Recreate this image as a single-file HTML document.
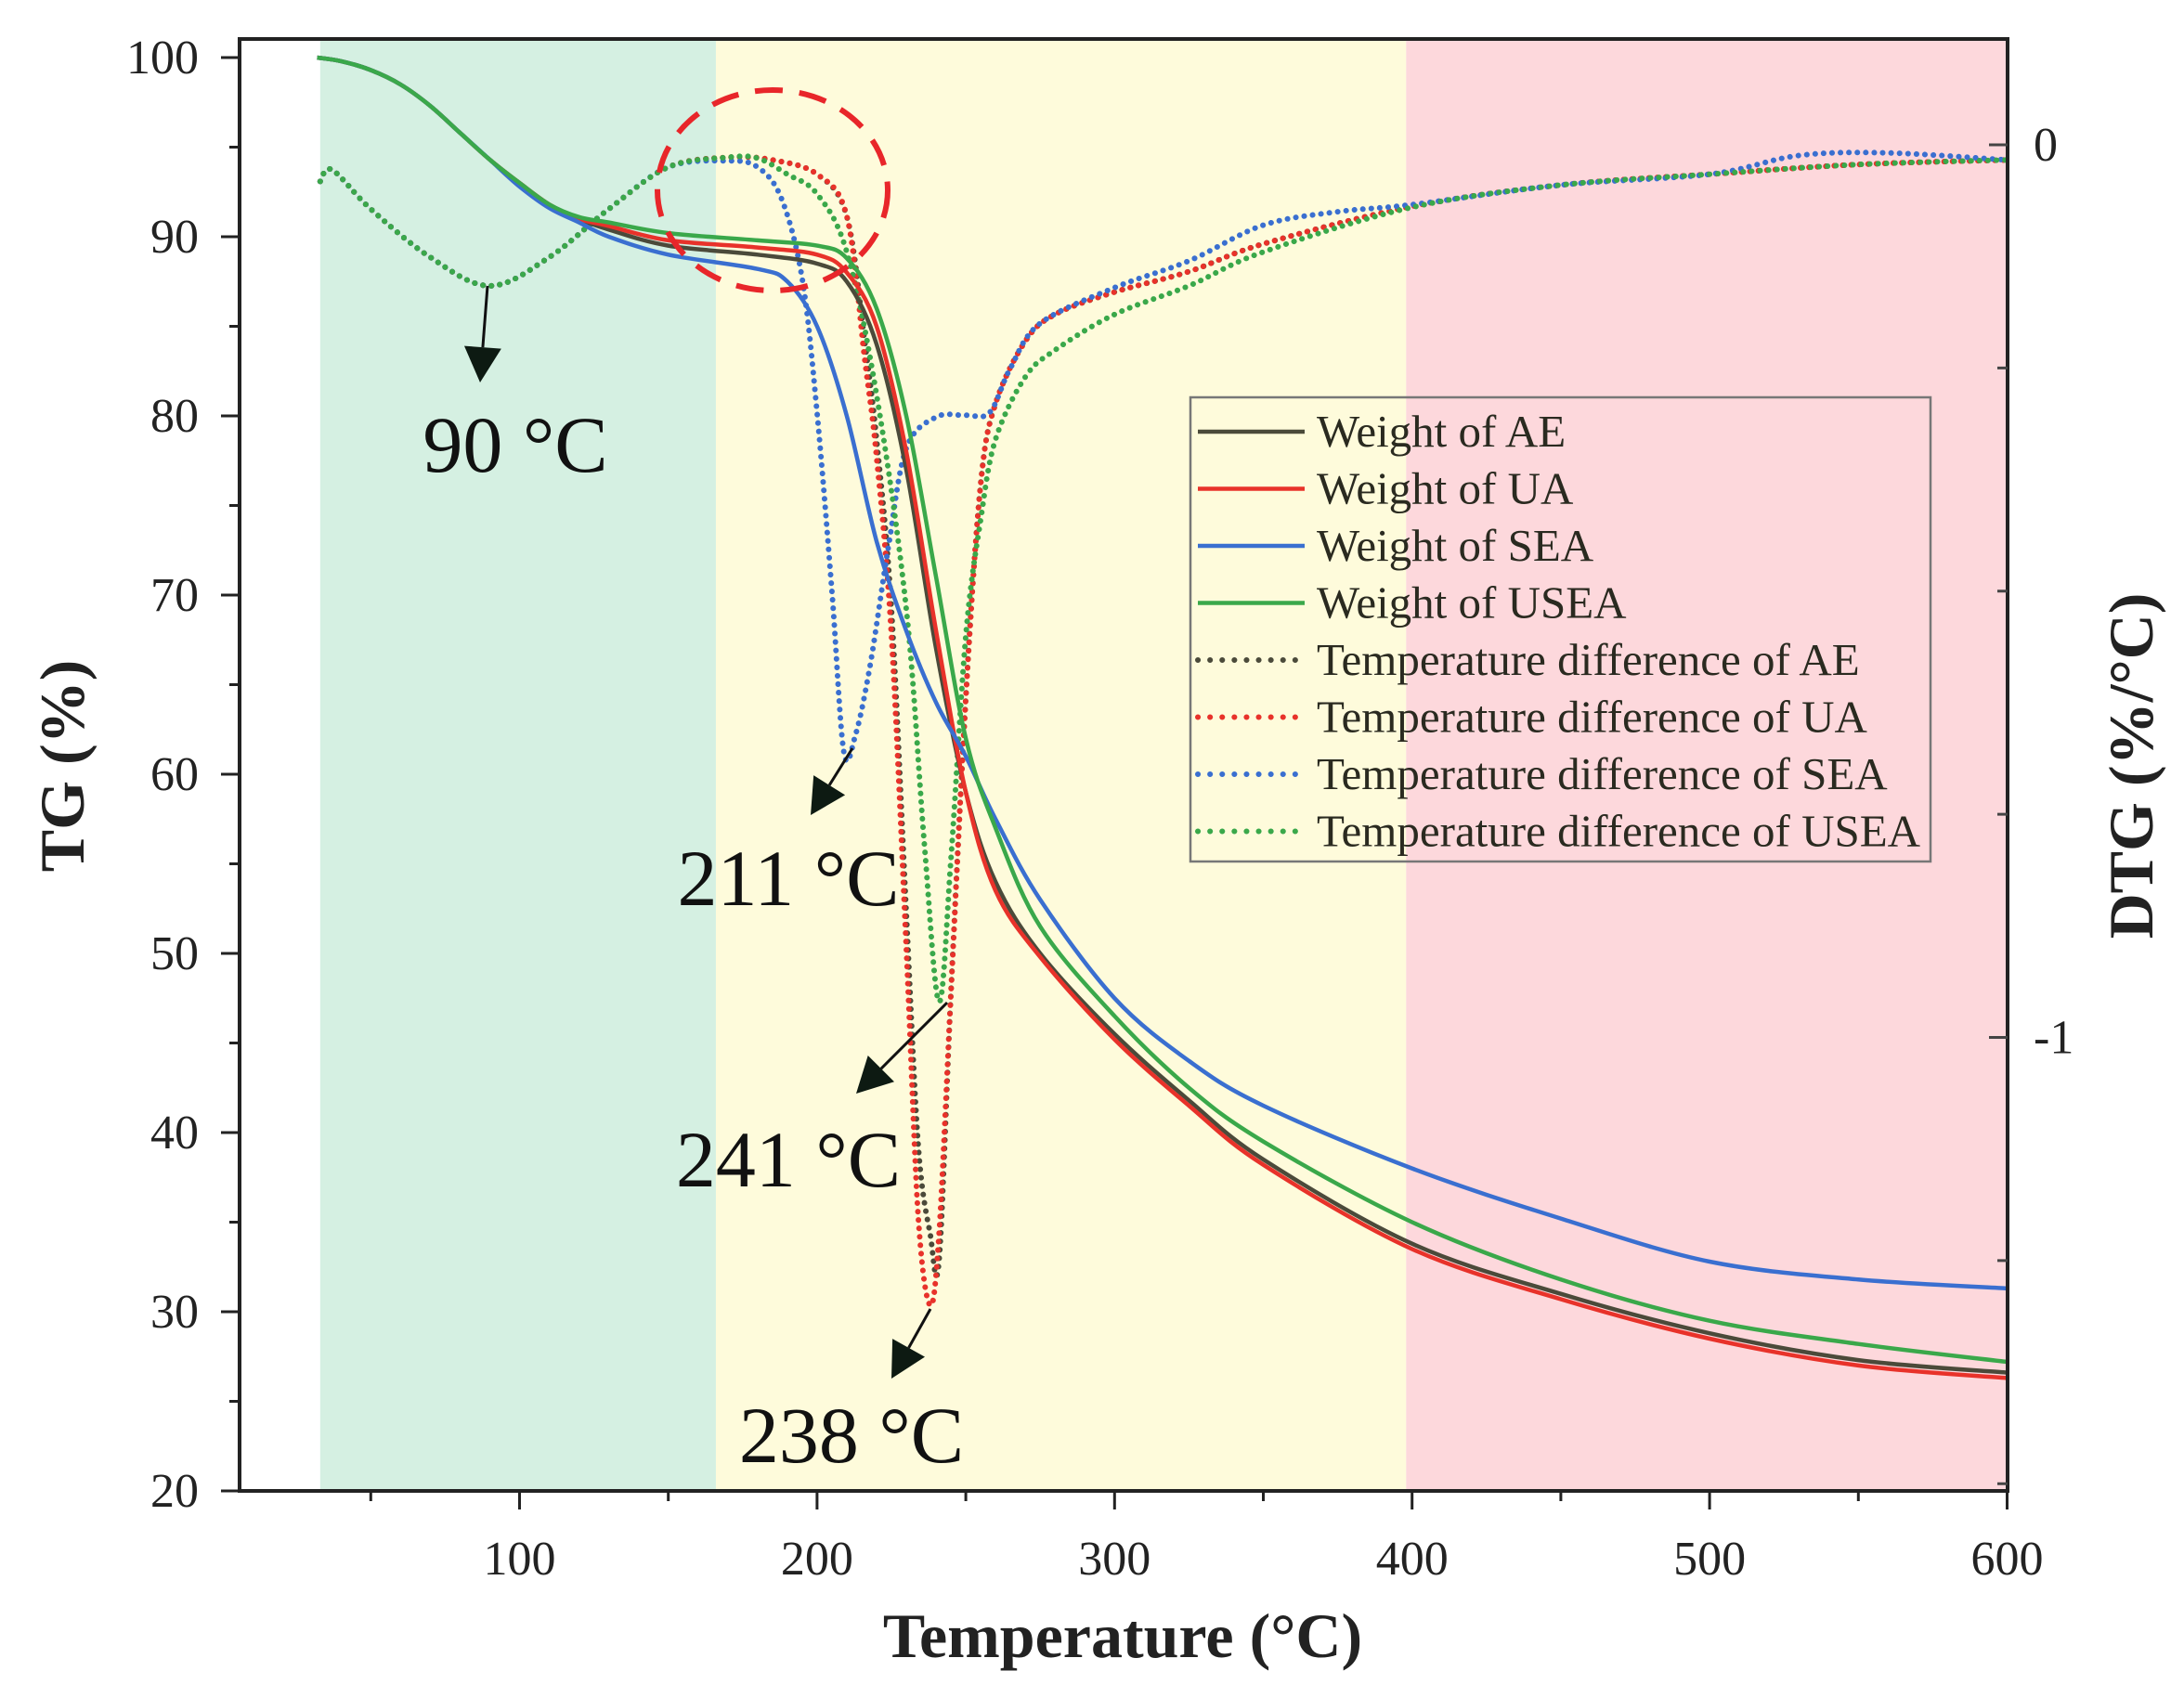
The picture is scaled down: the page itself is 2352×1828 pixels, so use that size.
<!DOCTYPE html>
<html><head><meta charset="utf-8"><style>
html,body{margin:0;padding:0;background:#fff;}
svg{display:block;font-family:"Liberation Serif",serif;}
</style></head><body>
<svg id="chart" width="2352" height="1828" viewBox="0 0 2352 1828" xmlns="http://www.w3.org/2000/svg">
<g id="bg"></g><g id="grid"></g><g id="series"></g><g id="axes"></g><g id="annot"></g><g id="legend"></g>
</svg>
<script>
// ---- data ----
const tgT = [32,40,50,60,70,80,90,100,110,120,130,150,180,200,210,220,230,240,250,260,275,300,325,350,400,450,500,550,600];
const tgAE  = [100,99.8,99.3,98.5,97.3,95.8,94.3,93,91.8,91,90.4,89.5,89,88.5,87.5,84,77,67,59,54,50,45.5,41.8,38.5,33.8,31,28.8,27.3,26.6];
const tgUA  = [100,99.8,99.3,98.5,97.3,95.8,94.3,93,91.8,91,90.6,89.8,89.4,89,88,85,78,68,59,53.5,49.8,45.2,41.5,38.2,33.5,30.7,28.5,27,26.3];
const tgSEAT = [32,40,50,60,70,80,90,100,110,120,130,150,180,190,200,210,220,230,240,250,260,275,300,325,350,400,450,500,550,600];
const tgSEA = [100,99.8,99.3,98.5,97.3,95.8,94.3,92.8,91.6,90.8,90,89,88.2,87.5,85,80,73,68,64,61,57.5,53,47.5,44,41.5,38,35.2,32.8,31.8,31.3];
const tgUSEA= [100,99.8,99.3,98.5,97.3,95.8,94.3,93,91.8,91.1,90.8,90.2,89.8,89.5,88.8,86,80,71,62,57,51.5,46.5,42.5,39.5,35,31.8,29.5,28.2,27.2];

const dT = [33,37,50,70,90,110,130,150,170,185,200,210,216,220,225,230,234,238,241,245,250,255,260,270,280,300,325,350,400,450,500,550,600];
const dAE = [-0.041,-0.028,-0.072,-0.126,-0.158,-0.126,-0.072,-0.025,-0.014,-0.017,-0.033,-0.08,-0.22,-0.33,-0.52,-0.86,-1.12,-1.22,-1.25,-0.95,-0.62,-0.38,-0.29,-0.22,-0.19,-0.165,-0.142,-0.111,-0.069,-0.045,-0.033,-0.022,-0.017];
const dUA = [-0.041,-0.028,-0.072,-0.126,-0.158,-0.126,-0.072,-0.025,-0.014,-0.017,-0.033,-0.08,-0.24,-0.35,-0.55,-0.9,-1.2,-1.3,-1.22,-0.95,-0.62,-0.38,-0.29,-0.22,-0.19,-0.165,-0.142,-0.111,-0.069,-0.045,-0.033,-0.022,-0.017];
const dSEAT = [33,37,50,70,90,110,130,150,170,180,188,195,200,205,209,213,218,224,230,240,250,258,265,275,300,325,350,375,400,450,500,530,560,600];
const dSEA = [-0.041,-0.028,-0.072,-0.126,-0.158,-0.126,-0.072,-0.025,-0.018,-0.025,-0.06,-0.15,-0.3,-0.5,-0.68,-0.66,-0.58,-0.45,-0.34,-0.305,-0.303,-0.3,-0.25,-0.2,-0.16,-0.13,-0.09,-0.075,-0.067,-0.045,-0.033,-0.012,-0.009,-0.017];
const dUSEAT = [33,37,50,70,90,110,130,150,170,180,190,200,210,220,230,236,241,245,250,255,260,270,280,300,325,350,400,450,500,550,600];
const dUSEA = [-0.041,-0.028,-0.072,-0.126,-0.158,-0.126,-0.072,-0.025,-0.014,-0.015,-0.033,-0.055,-0.12,-0.28,-0.52,-0.78,-0.96,-0.8,-0.55,-0.42,-0.33,-0.26,-0.23,-0.19,-0.158,-0.12,-0.07,-0.045,-0.033,-0.022,-0.017];

const xTicks = [100,200,300,400,500,600];
const yTicks = [20,30,40,50,60,70,80,90,100];
const y2Ticks = [0,-1];
const legendLabels = ["Weight of AE","Weight of UA","Weight of SEA","Weight of USEA","Temperature difference of AE","Temperature difference of UA","Temperature difference of SEA","Temperature difference of USEA"];

// ---- scales ----
const L=258,R=2162,T0=42,B=1606;
const x = t => 239.1 + 3.204*t;
const y = v => 62 + (100-v)*19.3;
const y2 = d => 156 - d*961.5;
const NS="http://www.w3.org/2000/svg";
function mk(tag, attrs, parent){const e=document.createElementNS(NS,tag);for(const k in attrs)e.setAttribute(k,attrs[k]);parent.appendChild(e);return e;}
function smooth(pts){let d=`M${pts[0][0].toFixed(1)},${pts[0][1].toFixed(1)}`;for(let i=0;i<pts.length-1;i++){const p0=pts[i-1]||pts[i],p1=pts[i],p2=pts[i+1],p3=pts[i+2]||p2;const c1=[p1[0]+(p2[0]-p0[0])/6,p1[1]+(p2[1]-p0[1])/6],c2=[p2[0]-(p3[0]-p1[0])/6,p2[1]-(p3[1]-p1[1])/6];d+=`C${c1[0].toFixed(1)},${c1[1].toFixed(1)} ${c2[0].toFixed(1)},${c2[1].toFixed(1)} ${p2[0].toFixed(1)},${p2[1].toFixed(1)}`;}return d;}

const bg=document.getElementById('bg');
let r;
r=mk('rect',{x:x(33),y:T0,width:x(166)-x(33),height:B-T0,fill:'#d5f0e2'},bg);


r=mk('rect',{x:x(166),y:T0,width:x(398)-x(166),height:B-T0,fill:'#fefbdb'},bg);


r=mk('rect',{x:x(398),y:T0,width:R-x(398),height:B-T0,fill:'#fdd8dc'},bg);



const colors={AE:'#4b4a3a',UA:'#e8322a',SEA:'#3a6fd0',USEA:'#3aa84a'};
const sg=document.getElementById('series');
function dotted(ts,vs,c,name){const p=mk('path',{d:smooth(ts.map((t,i)=>[x(t),y2(vs[i])])),fill:'none',stroke:c,'stroke-width':6,'stroke-dasharray':'0.1 9','stroke-linecap':'round'},sg);

}
function solid(ts,vs,c,name){const p=mk('path',{d:smooth(ts.map((t,i)=>[x(t),y(vs[i])])),fill:'none',stroke:c,'stroke-width':4.5},sg);

}
dotted(dT,dAE,colors.AE,'dtg-ae');
dotted(dT,dUA,colors.UA,'dtg-ua');
dotted(dSEAT,dSEA,colors.SEA,'dtg-sea');
dotted(dUSEAT,dUSEA,colors.USEA,'dtg-usea');
solid(tgT,tgAE,colors.AE,'tg-ae');
solid(tgT,tgUA,colors.UA,'tg-ua');
solid(tgSEAT,tgSEA,colors.SEA,'tg-sea');
solid(tgT,tgUSEA,colors.USEA,'tg-usea');

// axes
const ax=document.getElementById('axes');
mk('rect',{x:L,y:T0,width:R-L,height:B-T0,fill:'none',stroke:'#222','stroke-width':4},ax);
for(const t of xTicks){mk('line',{x1:x(t),x2:x(t),y1:B,y2:B+20,stroke:'#222','stroke-width':3},ax);
const tx=mk('text',{x:x(t),y:1696,'font-size':52,'text-anchor':'middle',fill:'#222'},ax);tx.textContent=t;

}
for(let t=50;t<600;t+=100)mk('line',{x1:x(t),x2:x(t),y1:B,y2:B+11,stroke:'#222','stroke-width':3},ax);
for(const v of yTicks){mk('line',{x1:L-20,x2:L,y1:y(v),y2:y(v),stroke:'#222','stroke-width':3},ax);
const tx=mk('text',{x:214,y:y(v)+17,'font-size':52,'text-anchor':'end',fill:'#222'},ax);tx.textContent=v;

}
for(let v=25;v<100;v+=10)mk('line',{x1:L-11,x2:L,y1:y(v),y2:y(v),stroke:'#222','stroke-width':3},ax);
for(const d of [0,-0.25,-0.5,-0.75,-1,-1.25,-1.5]){const big=Number.isInteger(d);mk('line',{x1:R-(big?20:11),x2:R,y1:y2(d),y2:y2(d),stroke:'#444','stroke-width':3},ax);}
for(const d of y2Ticks){const tx=mk('text',{x:2190,y:y2(d)+17,'font-size':52,fill:'#222'},ax);tx.textContent=d;

}
let t1=mk('text',{x:1209,y:1785,'font-size':68,'font-weight':'bold','text-anchor':'middle',fill:'#222'},ax);t1.textContent='Temperature (°C)';


t1=mk('text',{x:0,y:0,'font-size':68,'font-weight':'bold','text-anchor':'middle',fill:'#222',transform:'translate(90,825) rotate(-90)'},ax);t1.textContent='TG (%)';


t1=mk('text',{x:0,y:0,'font-size':68,'font-weight':'bold','text-anchor':'middle',fill:'#222',transform:'translate(2318,825) rotate(-90)'},ax);t1.textContent='DTG (%/°C)';



// annotations
const an=document.getElementById('annot');
const ell=mk('ellipse',{cx:832,cy:205,rx:124,ry:108,fill:'none',stroke:'#e8262a','stroke-width':6,'stroke-dasharray':'30 18'},an);


const notes=[["90 °C",555,508,525,308,517,412],["211 °C",849,975,918,806,873,878],["241 °C",849,1278,1020,1080,922,1178],["238 °C",917,1575,1002,1410,960,1485]];
for(const n of notes){
  const ang=Math.atan2(n[6]-n[4],n[5]-n[3]);const hx=n[5],hy=n[6];const bx=hx-38*Math.cos(ang),by=hy-38*Math.sin(ang);
  mk('line',{x1:n[3],y1:n[4],x2:bx,y2:by,stroke:'#111','stroke-width':3},an);
  const px=-Math.sin(ang)*20,py=Math.cos(ang)*20;
  mk('polygon',{points:`${hx},${hy} ${bx+px},${by+py} ${bx-px},${by-py}`,fill:'#0d1a12'},an);
  const tx=mk('text',{x:n[1],y:n[2],'font-size':86,'text-anchor':'middle',fill:'#111'},an);tx.textContent=n[0];
  
  
}

// legend
const lg=document.getElementById('legend');
const lb=mk('rect',{x:1282,y:428,width:797,height:500,fill:'none',stroke:'#777','stroke-width':2.5},lg);


const lc=[colors.AE,colors.UA,colors.SEA,colors.USEA];
legendLabels.forEach((lab,i)=>{const yy=465+i*61.5;const c=lc[i%4];
  const ln=mk('line',{x1:1290,x2:1405,y1:yy,y2:yy,stroke:c,'stroke-width':i<4?4.5:6,'stroke-dasharray':i<4?'none':'0.1 13','stroke-linecap':i<4?'butt':'round'},lg);
  
  
  const tx=mk('text',{x:1418,y:yy+16,'font-size':49,fill:'#2a2a20'},lg);tx.textContent=lab;
  
  
});
</script>
</body></html>
